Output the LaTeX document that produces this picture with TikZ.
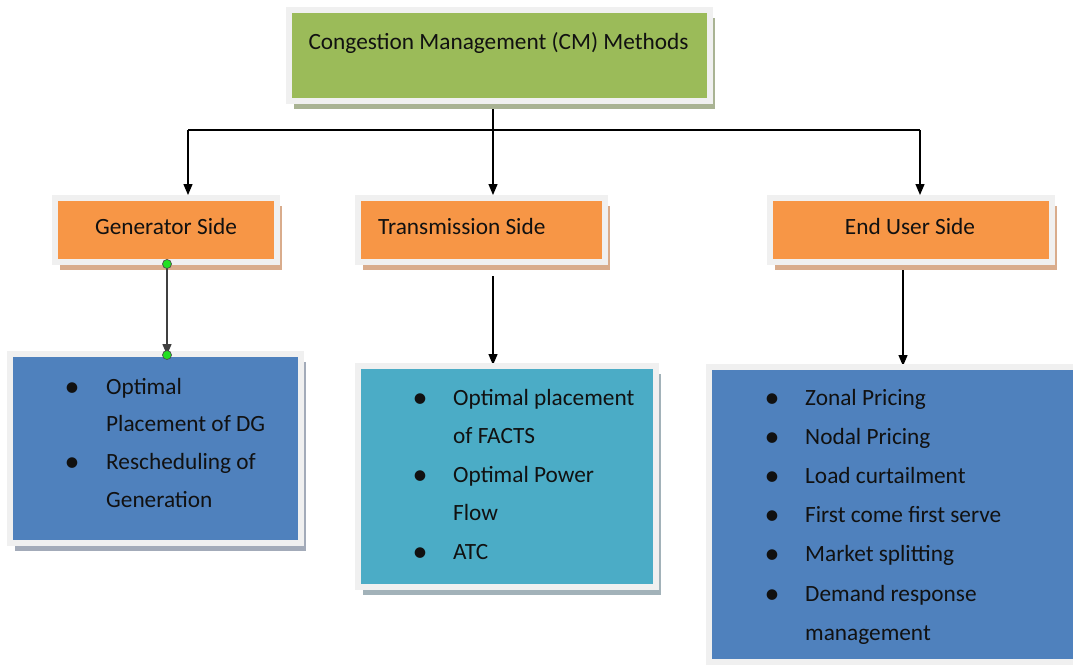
\documentclass[tikz,border=0pt]{standalone}
\usepackage{fontspec}
\setmainfont{Carlito}
\usetikzlibrary{arrows.meta,shadows,backgrounds}

\definecolor{hdgreen}{HTML}{9BBB59}
\definecolor{sideorange}{HTML}{F79646}
\definecolor{listblue}{HTML}{4F81BD}
\definecolor{listteal}{HTML}{4BACC6}
\definecolor{framegray}{HTML}{F0F0F0}
\definecolor{shgreen}{HTML}{A9B393}
\definecolor{shorange}{HTML}{D9AC8C}
\definecolor{shblue}{HTML}{A3ABB9}
\definecolor{shteal}{HTML}{A2B2B9}
\definecolor{dotgreen}{HTML}{22E022}
\definecolor{inktext}{HTML}{111111}

\begin{document}
\begin{tikzpicture}[x=1pt,y=-1pt,
  panel/.style={rectangle, draw=framegray, line width=6pt, inner sep=0pt,
    drop shadow={shadow xshift=5pt, shadow yshift=-8pt, fill=#1, opacity=1}},
  txt/.style={inner sep=0pt, text=inktext, font=\fontsize{23.3}{27}\selectfont},
  bul/.style={inner sep=0pt, text=inktext, font=\fontsize{30}{32}\selectfont},
  arr/.style={-{Triangle[width=9pt,length=11pt]}, line width=1.3pt, black},
  gdot/.style={circle, fill=dotgreen, draw=black!70, line width=0.7pt,
    minimum size=9pt, inner sep=0pt},
]
\useasboundingbox (0,0) rectangle (1073,664);

% heading and the three sides
\node[panel=shgreen, fill=hdgreen, minimum width=421pt, minimum height=91pt]
  (top) at (499.5,55.5) {};
\node[panel=shorange, fill=sideorange, minimum width=222pt, minimum height=64pt]
  (gen) at (166,230) {};
\node[panel=shorange, fill=sideorange, minimum width=247pt, minimum height=64pt]
  (trans) at (481.5,230) {};
\node[panel=shorange, fill=sideorange, minimum width=282pt, minimum height=64pt]
  (end) at (911,230) {};

% method lists
\node[panel=shblue, fill=listblue, minimum width=291pt, minimum height=189pt]
  (genlist) at (155.5,448.5) {};
\node[panel=shteal, fill=listteal, minimum width=298pt, minimum height=221pt]
  (translist) at (507,476.5) {};
\node[panel=shblue, fill=listblue, minimum width=379pt, minimum height=295pt]
  (endlist) at (898.5,514.5) {};

% box titles
\node[txt, anchor=base] (toptxt) at (498.5,49) {Congestion Management (CM) Methods};
\node[txt, anchor=base] (gentxt) at (166,234) {Generator Side};
\node[txt, anchor=base west] (transtxt) at (378,234) {Transmission Side};
\node[txt, anchor=base] (endtxt) at (910,234) {End User Side};

% list entries
\foreach \t [count=\i] in {Optimal, Placement of DG, Rescheduling of, Generation}
  \node[txt, anchor=base west] (gl\i) at (106,{394+(\i-1)*37.7}) {\t};
\foreach \i in {1,3}
  \node[bul, anchor=base] (gb\i) at (72,{396+(\i-1)*37.7}) {\textbullet};

\foreach \t [count=\i] in {Optimal placement, of FACTS, Optimal Power, Flow, ATC}
  \node[txt, anchor=base west] (tl\i) at (453,{405+(\i-1)*38.5}) {\t};
\foreach \i in {1,3,5}
  \node[bul, anchor=base] (tb\i) at (420,{407+(\i-1)*38.5}) {\textbullet};

\foreach \t [count=\i] in {Zonal Pricing, Nodal Pricing, Load curtailment,
    First come first serve, Market splitting, Demand response, management}
  \node[txt, anchor=base west] (el\i) at (805,{405+(\i-1)*39.2}) {\t};
\foreach \i in {1,...,6}
  \node[bul, anchor=base] (eb\i) at (772,{407+(\i-1)*39.2}) {\textbullet};

% connectors
\coordinate (busL) at (188,130);
\coordinate (busM) at (493,130);
\coordinate (busR) at (920,130);
\coordinate (g1) at ([yshift=1pt]gen.south -| 167,0);
\coordinate (g2) at (genlist.north -| g1);
\coordinate (g3) at ([yshift=-4pt]g2);

\begin{pgfonlayer}{background}
  \draw[line width=1.3pt] (busL) -- (busR);
  \draw[arr] (top.south -| busM) -- (busM |- trans.north);
  \draw[arr] (busL) -- (busL |- gen.north);
  \draw[arr] (busR) -- (busR |- end.north);
  \draw[arr] ([yshift=-11pt]trans.south -| busM) -- ([yshift=-2pt]translist.north -| busM);
  \draw[arr] (end.south -| 903,0) -- ([yshift=-2pt]endlist.north -| 903,0);
\end{pgfonlayer}
\draw[arr, draw=black!75] (g1) -- (g3);
\node[gdot] (d1) at (g1) {};
\node[gdot] (d2) at (g3) {};
\end{tikzpicture}
\end{document}
